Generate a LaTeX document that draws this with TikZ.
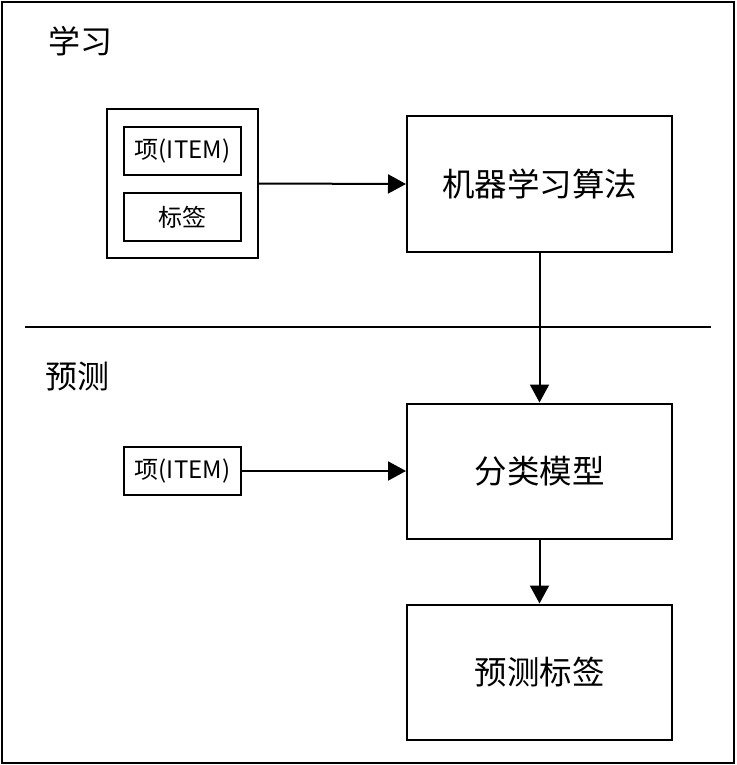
\documentclass[tikz,border=0pt]{standalone}
\usepackage{fontspec}
\setmainfont{Noto Sans CJK SC}
\usetikzlibrary{arrows.meta,positioning}

\begin{document}
\begin{tikzpicture}
          [ x=1pt, y=-1pt,
            element/.style={
              rectangle,
              draw,
              line width=2pt,
              minimum width=265pt,
              minimum height=135pt,
              font=\fontsize{32.5}{38}\selectfont,
              text centered},
            small/.style={
              rectangle,
              draw,
              line width=2pt,
              minimum width=117pt,
              minimum height=48pt,
              inner sep=0pt,
              font=\fontsize{24}{28}\selectfont},
            line/.style={
              draw,
              line width=2pt,
              -{Triangle[length=18pt,width=19pt]},
            },
            section/.style={
              anchor=west,
              inner sep=0pt,
              font=\fontsize{32}{38}\selectfont},
          ]

          \useasboundingbox (0,0) rectangle (736,765);
          \draw[line width=2pt] (2,2) rectangle (734,763);

          % learning part
          \node (learn) [section] at (48,41) {学习};
          \node (data) [rectangle, draw, line width=2pt,
            minimum width=151pt, minimum height=149pt] at (182.5,183.5) {};
          \node (item1) [small] at (182.5,151) {项(ITEM)};
          \node (label) [small] at (182.5,217) {标签};
          \node (algo) [element] at (539.5,184) {机器学习算法};

          \draw[line width=1.5pt] (25,327) -- (711,327);

          % prediction part
          \node (predict) [section] at (45,376) {预测};
          \node (item2) [small] at (182.5,471) {项(ITEM)};
          \node (model) [element] at (539.5,471) {分类模型};
          \node (result) [element] at (539.5,672) {预测标签};

          \draw[line] (data.east) -- (algo.west);
          \draw[line] (algo.south) -- (model.north);
          \draw[line] (item2.east) -- (model.west);
          \draw[line] (model.south) -- (result.north);

        \end{tikzpicture}
\end{document}
